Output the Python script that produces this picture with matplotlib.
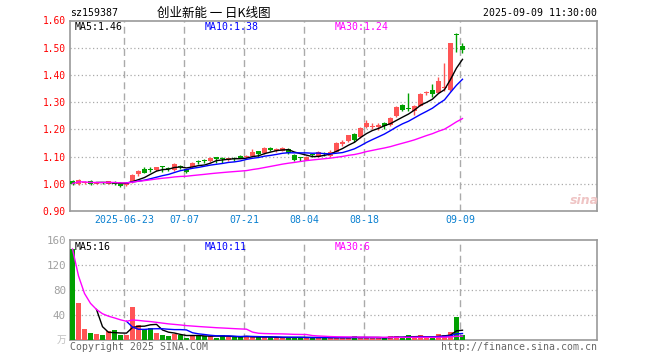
import numpy as np
import pandas as pd
import matplotlib
matplotlib.use("Agg")
from matplotlib import pyplot as plt

# --------- DATA ---------
dates = pd.bdate_range("2025-06-10", "2025-09-09")
opens = [1.009, 1.000, 1.003, 1.012, 1.001, 1.004, 1.001, 1.006, 1.003, 0.997,
         1.006, 1.035, 1.056, 1.053, 1.049, 1.066, 1.056, 1.050, 1.063, 1.053,
         1.061, 1.081, 1.084, 1.082, 1.098, 1.092, 1.088, 1.093, 1.103, 1.099,
         1.103, 1.119, 1.113, 1.132, 1.121, 1.122, 1.129, 1.107, 1.096, 1.089,
         1.106, 1.100, 1.110, 1.101, 1.118, 1.146, 1.157, 1.183, 1.173, 1.209,
         1.208, 1.210, 1.224, 1.217, 1.248, 1.291, 1.276, 1.268, 1.286, 1.333,
         1.344, 1.335, 1.352, 1.346, 1.548, 1.505]
closes = [1.001, 1.013, 1.007, 0.999, 1.004, 1.003, 1.010, 1.001, 0.992, 1.003,
          1.033, 1.047, 1.040, 1.052, 1.061, 1.060, 1.055, 1.072, 1.060, 1.044,
          1.078, 1.080, 1.083, 1.094, 1.091, 1.090, 1.093, 1.092, 1.095, 1.101,
          1.118, 1.108, 1.132, 1.123, 1.128, 1.131, 1.113, 1.088, 1.094, 1.100,
          1.105, 1.116, 1.108, 1.118, 1.150, 1.155, 1.178, 1.161, 1.205, 1.223,
          1.212, 1.216, 1.211, 1.243, 1.283, 1.271, 1.273, 1.285, 1.330, 1.336,
          1.331, 1.377, 1.355, 1.518, 1.545, 1.491]
highs = [1.013, 1.018, 1.010, 1.014, 1.007, 1.008, 1.012, 1.012, 1.005, 1.006,
         1.035, 1.052, 1.060, 1.060, 1.063, 1.067, 1.061, 1.075, 1.068, 1.056,
         1.080, 1.087, 1.090, 1.097, 1.100, 1.097, 1.096, 1.097, 1.105, 1.105,
         1.126, 1.121, 1.135, 1.134, 1.133, 1.136, 1.131, 1.109, 1.100, 1.102,
         1.109, 1.119, 1.115, 1.124, 1.153, 1.160, 1.180, 1.185, 1.207, 1.235,
         1.222, 1.225, 1.228, 1.246, 1.286, 1.295, 1.335, 1.288, 1.332, 1.340,
         1.365, 1.392, 1.444, 1.519, 1.554, 1.516]
lows = [0.996, 0.997, 1.000, 0.997, 0.998, 0.998, 0.999, 0.995, 0.988, 0.993,
        1.004, 1.030, 1.038, 1.042, 1.046, 1.045, 1.047, 1.048, 1.053, 1.040,
        1.058, 1.072, 1.075, 1.079, 1.076, 1.077, 1.085, 1.083, 1.093, 1.094,
        1.100, 1.100, 1.110, 1.120, 1.118, 1.120, 1.110, 1.083, 1.084, 1.086,
        1.098, 1.098, 1.103, 1.098, 1.116, 1.138, 1.155, 1.152, 1.170, 1.205,
        1.200, 1.196, 1.203, 1.214, 1.245, 1.268, 1.266, 1.252, 1.284, 1.328,
        1.318, 1.333, 1.342, 1.342, 1.486, 1.480]
volumes = [146, 60, 18.7, 11.7, 10.1, 8.5, 14.9, 16.5, 8.5, 9.1,
           53.3, 24.5, 17.6, 19.7, 12.3, 8.5, 6.9, 10.7, 8.5, 3.7,
           8.5, 7.0, 7.0, 7.0, 4.2, 8.4, 5.8, 4.7, 4.5, 7.4,
           5.8, 4.5, 4.5, 4.5, 4.5, 4.5, 4.5, 4.5, 4.5, 4.5,
           4.0, 4.5, 4.5, 4.0, 4.0, 4.0, 4.0, 6.5, 4.0, 4.0,
           4.0, 4.0, 4.0, 6.5, 6.5, 4.0, 8.0, 4.0, 8.0, 4.0,
           4.0, 10.5, 9.0, 14.0, 38.0, 9.0]
tick_dates = ["2025-06-23", "2025-07-07", "2025-07-21", "2025-08-04", "2025-08-18", "2025-09-09"]
price_ticks = [0.90, 1.00, 1.10, 1.20, 1.30, 1.40, 1.50, 1.60]
vol_ticks = [40, 80, 120, 160]

# --------- STYLE ---------
RED = "#ff5555"
GREEN = "#00a000"
GRID = "#aaaaaa"
BORDER = "#999999"
MONO = "DejaVu Sans Mono"
CJK = ["Noto Sans CJK SC", "DejaVu Sans"]
W, H = 660, 360

def px(x, y):
    return x / W, 1 - y / H

fig = plt.figure(figsize=(6.6, 3.6), dpi=100)
ax = fig.add_axes([70 / W, 149 / H, 527 / W, 190.5 / H])
vax = fig.add_axes([70 / W, 19.7 / H, 527 / W, 100 / H])

n = len(closes)
idx = np.arange(n)
o = np.array(opens); c = np.array(closes); hi = np.array(highs); lo = np.array(lows)
up = c >= o
colors = [RED if u else GREEN for u in up]

xlim = (-0.417, 87.42)
grid_x = [list(dates.strftime("%Y-%m-%d")).index(d) - 0.37 for d in tick_dates]
tick_labels = [tick_dates[0]] + [d[5:] for d in tick_dates[1:]]

# price panel
ax.vlines(idx, lo, hi, colors=colors, lw=1.0, zorder=3)
body_lo = np.minimum(o, c)
body_h = np.maximum(np.abs(c - o), 0.004)
ax.bar(idx, body_h, bottom=body_lo, width=0.83, color=colors, lw=0, zorder=4)

cs = pd.Series(closes)
ax.plot(idx, cs.rolling(5).mean(), color="black", lw=1.0, zorder=5)
ax.plot(idx, cs.rolling(10).mean(), color="#0000ff", lw=1.0, zorder=5)
ax.plot(idx, cs.rolling(30, min_periods=1).mean(), color="#ff00ff", lw=1.0, zorder=5)

ax.set_xlim(*xlim)
ax.set_ylim(0.90, 1.60)
ax.set_yticks(price_ticks)
ax.set_yticklabels(["%.2f" % p for p in price_ticks], color="#ff0000", fontsize=6.9, family=MONO)
ax.set_xticks(grid_x)
ax.set_xticklabels(tick_labels, color="#0a80d0", fontsize=7.1, family=MONO)
ax.tick_params(length=0, pad=3)
ax.tick_params(axis="y", pad=3)
for p in price_ticks[1:-1]:
    ax.axhline(p, color=GRID, lw=0.9, ls=(0, (1, 2)), zorder=1)
for gx in grid_x:
    ax.axvline(gx, color=GRID, lw=1.0, ls=(0, (5, 3)), zorder=1)

# volume panel
vol_colors = colors
vax.bar(idx, volumes, width=0.83, color=vol_colors, lw=0, zorder=3)
vs = pd.Series(volumes)
vax.plot(idx, vs.rolling(5).mean(), color="black", lw=1.0, zorder=5)
vax.plot(idx, vs.rolling(10).mean(), color="#0000ff", lw=1.0, zorder=5)
vax.plot(idx, vs.rolling(30, min_periods=1).mean(), color="#ff00ff", lw=1.0, zorder=5)
vax.set_xlim(*xlim)
vax.set_ylim(0, 160)
vax.set_yticks(vol_ticks)
vax.set_yticklabels([str(v) for v in vol_ticks], color="#a0a0a0", fontsize=7.8, family=MONO)
vax.set_xticks([])
vax.tick_params(length=0, pad=3)
for v in vol_ticks[:-1]:
    vax.axhline(v, color=GRID, lw=0.9, ls=(0, (1, 2)), zorder=1)
for gx in grid_x:
    vax.axvline(gx, color=GRID, lw=1.0, ls=(0, (5, 3)), zorder=1)

for a in (ax, vax):
    for s in a.spines.values():
        s.set_color(BORDER)
        s.set_linewidth(1.2)

# texts
fig.text(*px(70, 13), "sz159387", fontsize=7.1, family=MONO, va="center", ha="left")
fig.text(*px(214, 13), "创业新能 一 日K线图", fontsize=9, family=CJK, va="center", ha="center")
fig.text(*px(597, 13), "2025-09-09 11:30:00", fontsize=7.1, family=MONO, va="center", ha="right")

fig.text(*px(75, 26.5), "MA5:1.46", fontsize=7.1, family=MONO, va="center", color="black")
fig.text(*px(205, 26.5), "MA10:1.38", fontsize=7.1, family=MONO, va="center", color="#0000ff")
fig.text(*px(335, 26.5), "MA30:1.24", fontsize=7.1, family=MONO, va="center", color="#ff00ff")

fig.text(*px(75, 246.5), "MA5:16", fontsize=7.1, family=MONO, va="center", color="black")
fig.text(*px(205, 246.5), "MA10:11", fontsize=7.1, family=MONO, va="center", color="#0000ff")
fig.text(*px(335, 246.5), "MA30:6", fontsize=7.1, family=MONO, va="center", color="#ff00ff")

fig.text(*px(66, 340), "万", fontsize=7, family=CJK, va="center", ha="right", color="#c0c0c0")
fig.text(*px(70, 347), "Copyright 2025 SINA.COM", fontsize=7.1, family=MONO, va="center", color="#666666")
fig.text(*px(597, 347), "http://finance.sina.com.cn", fontsize=7.1, family=MONO, va="center", ha="right", color="#666666")

fig.text(*px(584, 200), "sina", fontsize=9, fontweight="bold", style="italic", va="center", ha="center", color="#efc4c4")

fig.savefig("out.png", dpi=100)
